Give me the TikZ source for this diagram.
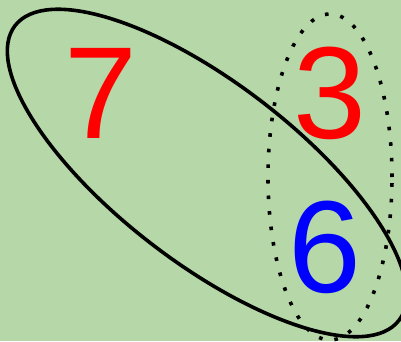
\documentclass[tikz,border=0pt]{standalone}
\usepackage{fontspec}
\setmainfont{Liberation Sans}
\definecolor{bggreen}{HTML}{B6D7A8}
\begin{document}
\begin{tikzpicture}[x=1pt,y=1pt,
  digit/.style={inner sep=0pt,font=\fontsize{131}{131}\selectfont},
  solidring/.style={draw=black,line width=3.6pt},
  dotring/.style={draw=black,line width=3.6pt,dash pattern=on 3.6pt off 12pt}]
\fill[bggreen] (0,0) rectangle (401,341);
\useasboundingbox (0,0) rectangle (401,341);
\node[digit,text=red] (seven) at (101,248) {7};
\node[digit,text=red] (three) at (330,248) {3};
\node[digit,text=blue] (six) at (325,94) {6};
\draw[solidring] (207,168) ellipse [x radius=242, y radius=90, rotate=-37.5];
\draw[dotring] (330,164) ellipse [x radius=62, y radius=163];
\end{tikzpicture}
\end{document}
